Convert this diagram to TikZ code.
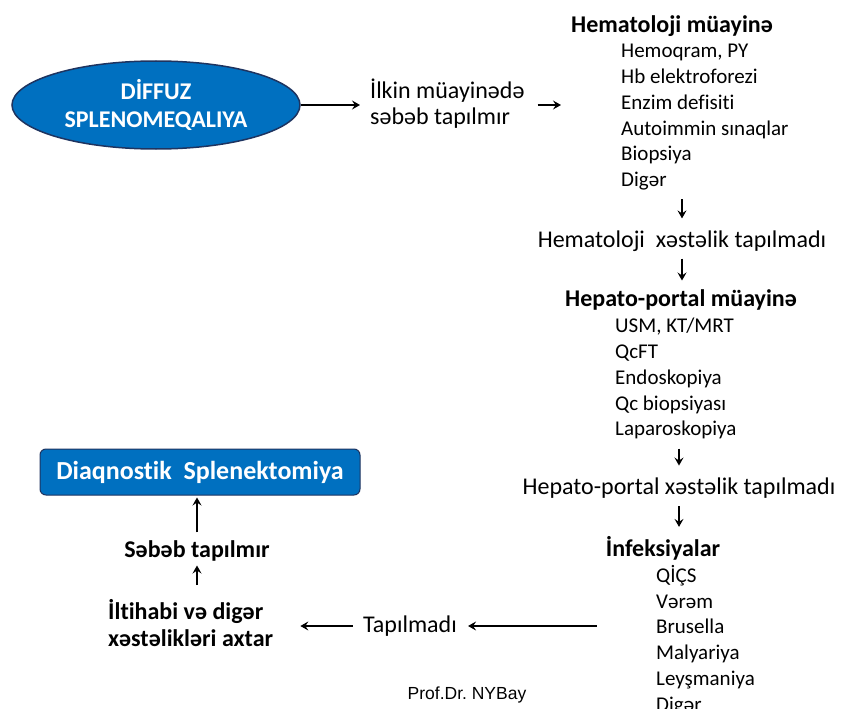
\documentclass[tikz,border=0pt]{standalone}
\usepackage{fontspec}
\setmainfont{Carlito}[Ligatures={NoCommon}]
\newfontfamily\arialfont{Liberation Sans}
\usetikzlibrary{arrows.meta, shapes.geometric, positioning}
\definecolor{splBlue}{RGB}{0,112,192}
\definecolor{splEdge}{RGB}{30,52,96}

\begin{document}
\begin{tikzpicture}[x=1pt, y=-1pt, >={Stealth[length=8pt, width=9pt, inset=3pt]},
    txt/.style={font=\fontsize{24}{26}\selectfont, inner sep=2pt},
    head/.style={font=\fontsize{24}{27}\selectfont\bfseries, inner sep=2pt},
    lst/.style={font=\fontsize{21}{25.8}\selectfont, align=left, anchor=north west, inner sep=0pt},
    arr/.style={->, line width=1.6pt},
    darr/.style={->, line width=1.5pt, shorten <=9pt, shorten >=10pt}]
    \useasboundingbox (0,0) rectangle (841,709);

    % Başlanğıc: diffuz splenomeqaliya
    \node[ellipse, draw=splEdge, line width=1.5pt, fill=splBlue, text=white,
          minimum width=288pt, minimum height=88pt, align=center,
          font=\fontsize{24}{28}\selectfont\bfseries] (spleno) at (156,105)
          {DİFFUZ\\SPLENOMEQALIYA};
    \node[txt, align=left, anchor=west] (ilkin) at (368,104)
          {İlkin müayinədə\\səbəb tapılmır};

    % Hematoloji müayinə
    \node[head] (hemHead) at (672,26) {Hematoloji müayinə};
    \node[lst] (hemList) at (621,44)
          {Hemoqram, PY\\Hb elektroforezi\\Enzim defisiti\\Autoimmin sınaqlar\\Biopsiya\\Digər};
    \node[txt] (hemNo) at (682,241) {Hematoloji\ \ xəstəlik tapılmadı};

    % Hepato-portal müayinə
    \node[head] (hepHead) at (681,300) {Hepato-portal müayinə};
    \node[lst] (hepList) at (615,318)
          {USM, KT/MRT\\QcFT\\Endoskopiya\\Qc biopsiyası\\Laparoskopiya};
    \node[txt] (hepNo) at (679,488) {Hepato-portal xəstəlik tapılmadı};

    % İnfeksiyalar
    \node[head] (infHead) at (663,548) {İnfeksiyalar};
    \node[lst] (infList) at (656,565)
          {QİÇS\\Vərəm\\Brusella\\Malyariya\\Leyşmaniya\\Digər};

    % Sol tərəf
    \node[txt] (tapNo) at (410,626) {Tapılmadı};
    \node[head, align=left, anchor=west] (iltihab) at (106,623)
          {İltihabi və digər\\xəstəlikləri axtar};
    \node[head] (sebeb) at (197,551) {Səbəb tapılmır};
    \node[draw=splEdge, line width=1pt, fill=splBlue, text=white, rounded corners=6pt,
          minimum width=320pt, minimum height=46pt,
          font=\fontsize{26}{28}\selectfont\bfseries] (diag) at (200,472)
          {Diaqnostik\ \ Splenektomiya};

    \node[font=\arialfont\fontsize{17.5}{20}\selectfont] (author) at (467,695) {Prof.Dr.\ NYBay};

    % Oxlar
    \draw[arr, shorten >=8pt] (spleno.east) -- (spleno.east -| ilkin.west);
    \draw[arr, shorten <=11pt, shorten >=8pt] (ilkin.east |- spleno.east) -- (hemHead.west |- spleno.east);
    \draw[darr] (hemList.south -| hemNo) -- (hemNo);
    \draw[darr, shorten <=5pt, shorten >=7pt] (hemNo) -- (hemNo |- hepHead.north);
    \draw[darr] (hepList.south -| hepNo) -- (hepNo);
    \draw[darr, shorten <=6pt, shorten >=7pt] (hepNo) -- (hepNo |- infHead.north);
    \draw[arr, shorten <=7pt, shorten >=9pt] (infHead.west |- tapNo) -- (tapNo.east);
    \draw[arr, shorten <=8pt, shorten >=25pt] (tapNo.west) -- (iltihab.east |- tapNo);
    \draw[arr, shorten <=12pt, shorten >=2pt] (iltihab.north -| sebeb) -- (sebeb.south);
    \draw[arr, shorten <=6pt, shorten >=2pt] (sebeb.north) -- (sebeb.north |- diag.south);
\end{tikzpicture}
\end{document}
